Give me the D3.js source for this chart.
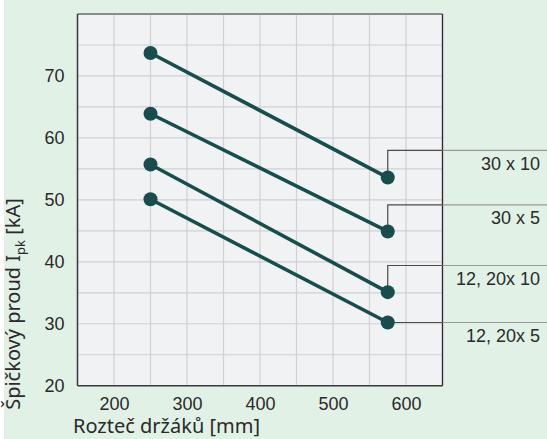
<!DOCTYPE html>
<html><head><meta charset="utf-8">
<script src="https://cdn.jsdelivr.net/npm/d3@7"></script>
<style>
html,body{margin:0;padding:0;background:#fff;}
svg{display:block;}
</style></head>
<body>
<svg id="chart" width="547" height="439"></svg>
<script>
// ---- data ----
const spacings = [250, 575];                       // mm
const seriesNames = ["30 x 10", "30 x 5", "12, 20x 10", "12, 20x 5"];
const peakStart = [73.7, 63.9, 55.7, 50.1];        // kA at 250 mm
const peakEnd   = [53.6, 44.9, 35.1, 30.2];        // kA at 575 mm
const calloutLevel = [58.0, 49.2, 39.4, 30.2];     // kA level of callout leader
const xTicks = [200, 300, 400, 500, 600];
const yTicks = [20, 30, 40, 50, 60, 70];
const xGrid = d3.range(150, 651, 50);
const yGrid = d3.range(20, 81, 5);

const svg = d3.select("#chart");
const W = 547, H = 439;
const m = {left: 77.5, right: 442.5, top: 14, bottom: 385.7};

svg.append("rect").attr("x", 4).attr("y", 0).attr("width", W - 4).attr("height", H).attr("fill", "#e1f1e6");

const x = d3.scaleLinear().domain([150, 650]).range([m.left, m.right]);
const y = d3.scaleLinear().domain([20, 80]).range([m.bottom, m.top]);

svg.append("rect").attr("x", m.left).attr("y", m.top)
  .attr("width", m.right - m.left).attr("height", m.bottom - m.top).attr("fill", "#f1f2f4");

// grid
const g = svg.append("g");
g.selectAll(".vg").data(xGrid).join("line")
  .attr("x1", d => x(d)).attr("x2", d => x(d)).attr("y1", m.top).attr("y2", m.bottom)
  .attr("stroke", "#cfd0d3").attr("stroke-width", 1.2);
g.selectAll(".hg").data(yGrid).join("line")
  .attr("y1", d => y(d)).attr("y2", d => y(d)).attr("x1", m.left).attr("x2", m.right)
  .attr("stroke", "#cfd0d3").attr("stroke-width", 1.2);

// borders
svg.append("line").attr("x1", m.left).attr("x2", m.right).attr("y1", m.top).attr("y2", m.top)
  .attr("stroke", "#8c8c8c").attr("stroke-width", 2);
svg.append("line").attr("x1", m.left).attr("x2", m.left).attr("y1", m.top).attr("y2", m.bottom)
  .attr("stroke", "#3a3a3a").attr("stroke-width", 1.5);
svg.append("line").attr("x1", m.right).attr("x2", m.right).attr("y1", m.top).attr("y2", m.bottom)
  .attr("stroke", "#2a2a2a").attr("stroke-width", 1.3);
svg.append("line").attr("x1", m.left).attr("x2", m.right).attr("y1", m.bottom).attr("y2", m.bottom)
  .attr("stroke", "#3a3a3a").attr("stroke-width", 1.5);

// axes via d3 axis
const xAxis = svg.append("g").attr("transform", `translate(0,${m.bottom})`)
  .call(d3.axisBottom(x).tickValues(xTicks).tickSize(0).tickPadding(24));
xAxis.select(".domain").remove();
xAxis.selectAll("text").attr("font-family", "Liberation Sans, Arial, sans-serif")
  .attr("font-size", 18).attr("fill", "#2a2a2a").attr("dy", 0);

const yAxis = svg.append("g").attr("transform", `translate(${m.left},0)`)
  .call(d3.axisLeft(y).tickValues(yTicks).tickSize(0).tickPadding(13));
yAxis.select(".domain").remove();
yAxis.selectAll("text").attr("font-family", "Liberation Sans, Arial, sans-serif")
  .attr("font-size", 18).attr("fill", "#2a2a2a");

// callout leaders
const calls = svg.append("g");
seriesNames.forEach((name, i) => {
  const px = x(spacings[1]), py = y(peakEnd[i]), ly = y(calloutLevel[i]);
  calls.append("path").attr("d", `M${px},${py}V${ly}H${m.right}`)
    .attr("fill", "none").attr("stroke", "#4a4a4a").attr("stroke-width", 1.2);
  calls.append("line").attr("x1", m.right).attr("x2", W).attr("y1", ly).attr("y2", ly)
    .attr("stroke", "#9a9a9a").attr("stroke-width", 1.2);
  calls.append("text").attr("x", 540).attr("y", ly + 19.5).attr("text-anchor", "end")
    .attr("font-family", "Liberation Sans, Arial, sans-serif").attr("font-size", 18)
    .attr("fill", "#2a2a2a").text(name);
});

// series lines + points
const col = "#194d4d";
const s = svg.append("g");
seriesNames.forEach((name, i) => {
  const pts = [[spacings[0], peakStart[i]], [spacings[1], peakEnd[i]]];
  s.append("path").attr("d", d3.line().x(d => x(d[0])).y(d => y(d[1]))(pts))
    .attr("stroke", col).attr("stroke-width", 3.6).attr("fill", "none");
  s.selectAll(null).data(pts).join("circle")
    .attr("cx", d => x(d[0])).attr("cy", d => y(d[1])).attr("r", 7).attr("fill", col);
});

// titles
svg.append("text").attr("x", 73).attr("y", 433)
  .attr("font-family", "Noto Sans, Open Sans, sans-serif").attr("font-size", 20)
  .attr("fill", "#2a2a2a").text("Rozteč držáků [mm]");

const yt = svg.append("text").attr("transform", "translate(20,304) rotate(-90)")
  .attr("text-anchor", "middle")
  .attr("font-family", "Noto Sans, Open Sans, sans-serif").attr("font-size", 20)
  .attr("fill", "#2a2a2a");
yt.append("tspan").text("Špičkový proud I");
yt.append("tspan").attr("font-size", 13).attr("dy", 5).text("pk");
yt.append("tspan").attr("dy", -5).text(" [kA]");
</script>
</body></html>
